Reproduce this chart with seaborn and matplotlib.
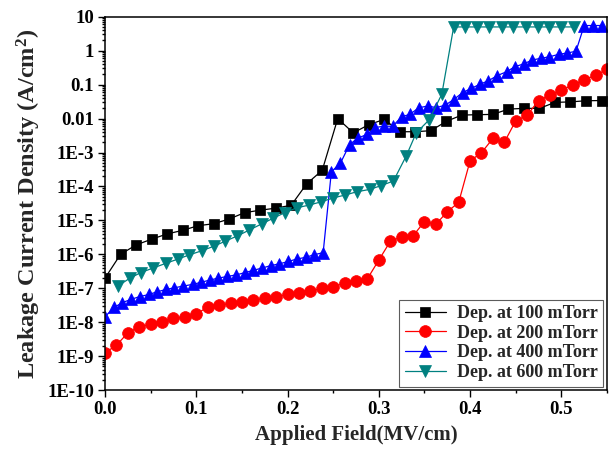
import matplotlib
matplotlib.use("Agg")
import matplotlib.pyplot as plt
from matplotlib.ticker import FixedLocator, LogLocator, NullFormatter, FuncFormatter, MultipleLocator
import seaborn as sns

# ── Data (field in MV/cm, current density in A/cm^2) ──

field_100 = [0.000, 0.017, 0.034, 0.051, 0.068, 0.085, 0.102, 0.119, 0.136, 0.153,
             0.170, 0.187, 0.204, 0.221, 0.238, 0.255, 0.272, 0.289, 0.306, 0.323,
             0.340, 0.357, 0.374, 0.391, 0.408, 0.425, 0.442, 0.459, 0.476, 0.493,
             0.510, 0.527, 0.544]
j_100 = [2.0e-7, 1.0e-6, 1.9e-6, 2.8e-6, 4.0e-6, 5.1e-6, 7.0e-6, 8.0e-6, 1.1e-5, 1.7e-5,
         2.0e-5, 2.3e-5, 2.8e-5, 1.2e-4, 3.0e-4, 1.0e-2, 3.8e-3, 6.6e-3, 9.5e-3, 4.1e-3,
         4.1e-3, 4.4e-3, 8.3e-3, 1.27e-2, 1.3e-2, 1.33e-2, 1.9e-2, 2.0e-2, 2.0e-2, 3.0e-2,
         3.1e-2, 3.35e-2, 3.4e-2]

field_200 = [0.0000, 0.0125, 0.0250, 0.0375, 0.0500, 0.0625, 0.0750, 0.0875, 0.1000, 0.1125,
             0.1250, 0.1375, 0.1500, 0.1625, 0.1750, 0.1875, 0.2000, 0.2125, 0.2250, 0.2375,
             0.2500, 0.2625, 0.2750, 0.2875, 0.3000, 0.3125, 0.3250, 0.3375, 0.3500, 0.3625,
             0.3750, 0.3875, 0.4000, 0.4125, 0.4250, 0.4375, 0.4500, 0.4625, 0.4750, 0.4875,
             0.5000, 0.5125, 0.5250, 0.5375, 0.5500]
j_200 = [1.27e-9, 2.1e-9, 4.9e-9, 7.4e-9, 8.7e-9, 1.04e-8, 1.3e-8, 1.46e-8, 1.7e-8, 2.9e-8,
         3.2e-8, 3.6e-8, 4.0e-8, 4.5e-8, 5.1e-8, 5.7e-8, 6.6e-8, 7.4e-8, 8.3e-8, 1.0e-7,
         1.13e-7, 1.4e-7, 1.66e-7, 1.92e-7, 6.8e-7, 2.4e-6, 3.3e-6, 3.5e-6, 9.3e-6, 7.7e-6,
         1.8e-5, 3.4e-5, 5.7e-4, 9.9e-4, 2.6e-3, 2.0e-3, 8.6e-3, 1.25e-2, 3.4e-2, 4.9e-2,
         6.9e-2, 9.7e-2, 0.137, 0.19, 0.28]

field_400 = [0.000, 0.010, 0.019, 0.029, 0.038, 0.048, 0.057, 0.067, 0.076, 0.086,
             0.096, 0.105, 0.115, 0.124, 0.134, 0.143, 0.153, 0.162, 0.172, 0.182,
             0.191, 0.201, 0.210, 0.220, 0.229, 0.239, 0.248, 0.258, 0.268, 0.277,
             0.287, 0.296, 0.306, 0.315, 0.325, 0.334, 0.344, 0.354, 0.363, 0.373,
             0.382, 0.392, 0.401, 0.411, 0.420, 0.430, 0.440, 0.449, 0.459, 0.468,
             0.478, 0.487, 0.497, 0.506, 0.516, 0.525, 0.535, 0.545]
j_400 = [1.46e-8, 2.75e-8, 3.8e-8, 4.8e-8, 5.7e-8, 6.6e-8, 7.9e-8, 9.3e-8, 1.04e-7, 1.17e-7,
         1.31e-7, 1.5e-7, 1.76e-7, 2.0e-7, 2.24e-7, 2.47e-7, 2.88e-7, 3.37e-7, 3.96e-7, 4.7e-7,
         5.27e-7, 6.2e-7, 7.3e-7, 8.2e-7, 9.8e-7, 1.12e-6, 2.7e-4, 4.9e-4, 1.72e-3, 2.67e-3,
         3.4e-3, 5.45e-3, 6.0e-3, 5.9e-3, 1.13e-2, 1.33e-2, 2.1e-2, 2.34e-2, 2.1e-2, 2.5e-2,
         3.64e-2, 5.85e-2, 7.7e-2, 0.103, 0.13, 0.185, 0.24, 0.337, 0.41, 0.53,
         0.6, 0.66, 0.78, 0.85, 0.96, 5.5, 5.5, 5.5]

field_600 = [0.014, 0.027, 0.039, 0.053, 0.067, 0.080, 0.092, 0.106, 0.119, 0.131,
             0.145, 0.158, 0.172, 0.184, 0.197, 0.210, 0.224, 0.237, 0.250, 0.263,
             0.276, 0.290, 0.302, 0.316, 0.330, 0.341, 0.355, 0.369, 0.382, 0.394,
             0.408, 0.421, 0.435, 0.447, 0.461, 0.474, 0.487, 0.500, 0.514]
j_600 = [1.17e-7, 1.97e-7, 2.9e-7, 4.0e-7, 5.5e-7, 7.3e-7, 9.6e-7, 1.28e-6, 1.73e-6, 2.4e-6,
         3.5e-6, 5.2e-6, 8.0e-6, 1.15e-5, 1.7e-5, 2.35e-5, 2.85e-5, 3.55e-5, 4.6e-5, 5.6e-5,
         7.0e-5, 8.2e-5, 1.05e-4, 1.45e-4, 7.9e-4, 3.8e-3, 9.1e-3, 5.2e-2, 5.0, 5.0,
         5.0, 5.0, 5.0, 5.0, 5.0, 5.0, 5.0, 5.0, 5.0]

SERIES = [
    (field_100, j_100, "Dep. at 100 mTorr", "#000000", "s", 7.5),
    (field_200, j_200, "Dep. at 200 mTorr", "#FF0000", "o", 8.5),
    (field_400, j_400, "Dep. at 400 mTorr", "#0000FF", "^", 8.5),
    (field_600, j_600, "Dep. at 600 mTorr", "#008080", "v", 8.5),
]

DECADES = [10.0 ** k for k in range(-10, 2)]
DECADE_LABELS = ["1E-10", "1E-9", "1E-8", "1E-7", "1E-6", "1E-5", "1E-4",
                 "1E-3", "0.01", "0.1", "1", "10"]

sns.set_theme(style="ticks")
plt.rcParams["font.family"] = ["Liberation Serif", "DejaVu Serif"]
plt.rcParams["font.weight"] = "bold"
plt.rcParams["mathtext.fontset"] = "custom"
plt.rcParams["mathtext.bf"] = "Liberation Serif:bold"
plt.rcParams["mathtext.rm"] = "Liberation Serif:bold"
plt.rcParams["mathtext.default"] = "bf"

fig = plt.figure(figsize=(6.13, 4.53), dpi=100)
ax = fig.add_axes([0.1713, 0.1386, 0.8189, 0.8245])
ax.set_yscale("log")

for x, y, lab, col, mk, ms in SERIES:
    sns.lineplot(x=x, y=y, ax=ax, color=col, marker=mk, markersize=ms,
                 markeredgecolor=col, markeredgewidth=0.5, linewidth=0.9,
                 label=lab, sort=False, estimator=None, legend=False)

ax.set_xlim(0, 0.55)
ax.set_ylim(1e-10, 10)
ax.xaxis.set_major_locator(MultipleLocator(0.1))
ax.xaxis.set_minor_locator(MultipleLocator(0.05))
ax.xaxis.set_major_formatter(FuncFormatter(lambda v, _: f"{v:.1f}"))
ax.yaxis.set_major_locator(FixedLocator(DECADES))
ax.yaxis.set_major_formatter(FuncFormatter(
    lambda v, pos: DECADE_LABELS[pos] if pos is not None and pos < len(DECADE_LABELS) else ""))
ax.yaxis.set_minor_locator(LogLocator(base=10, subs=range(2, 10), numticks=100))
ax.yaxis.set_minor_formatter(NullFormatter())

ax.tick_params(which="both", direction="out", top=False, right=False,
               width=1.0, colors="black", labelsize=13.5, pad=3)
ax.tick_params(which="major", length=5)
ax.tick_params(which="minor", length=2.5)
for lab in ax.get_xticklabels() + ax.get_yticklabels():
    lab.set_fontweight("bold")
for sp in ax.spines.values():
    sp.set_color("black")
    sp.set_linewidth(1.1)

ax.set_xlabel("Applied Field(MV/cm)", fontsize=15, fontweight="bold", labelpad=5)
ax.set_ylabel("Leakage Current Density (A/cm$^2$)", fontsize=17.5,
              fontweight="bold", labelpad=3)

leg = ax.legend(loc="lower right", fontsize=13, frameon=True, fancybox=False,
                borderaxespad=0.2, handlelength=2.3, labelspacing=0.15,
                borderpad=0.3, handletextpad=0.6)
leg.get_frame().set_edgecolor("#333333")
leg.get_frame().set_linewidth(0.8)
for t in leg.get_texts():
    t.set_fontweight("bold")

fig.savefig("out.png", dpi=100)
